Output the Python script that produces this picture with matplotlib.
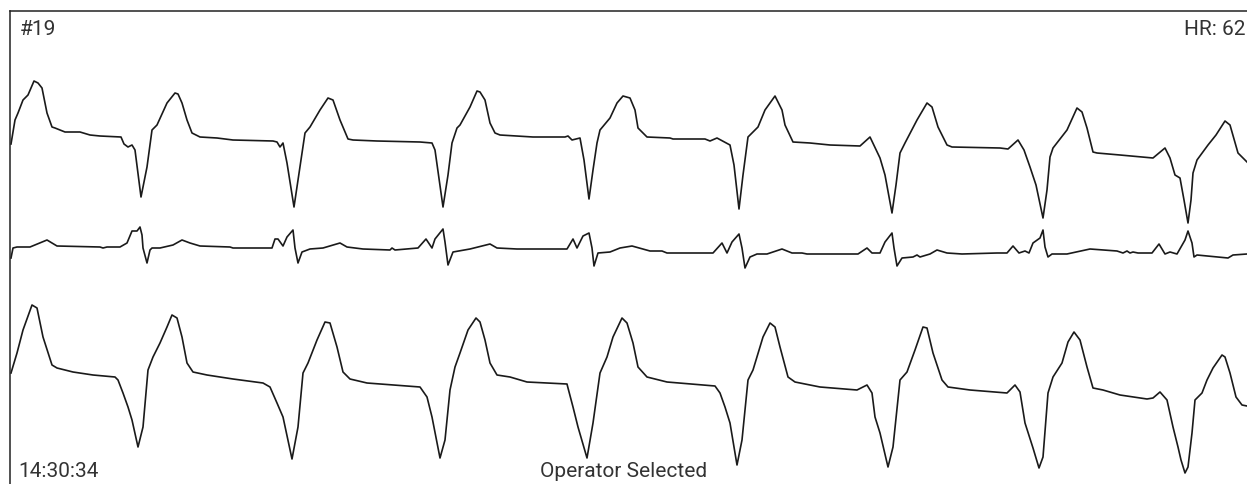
import numpy as np
import matplotlib.pyplot as plt

# traces (x = time in screen units, y = screen units, downwards)
top_trace = [(11,144),(15,120),(18,113),(23,100),(28,95),(34,81),(38,83),(42,88),(47,113),(52,127),(55,128),(65,132),(80,132),(90,135),(100,136),(121,137),(124,144),(128,147),(132,145),(135,150),(141,197),(147,167),(152,130),(157,125),(167,103),(175,93),(178,94),(182,103),(187,120),(192,133),(200,137),(217,138),(233,140),(273,141),(277,142),(280,147),(283,143),(287,163),(294,207),(300,167),(305,133),(310,127),(320,110),(328,98),(333,100),(340,120),(348,139),(353,140),(377,141),(420,142),(432,143),(435,150),(443,207),(448,175),(452,143),(457,128),(460,125),(470,107),(477,91),(480,92),(485,100),(490,123),(495,133),(500,135),(533,137),(565,137),(568,136),(572,140),(580,138),(584,160),(589,199),(593,170),(597,143),(600,130),(610,118),(617,103),(623,96),(630,98),(635,110),(638,128),(647,137),(670,138),(673,139),(705,139),(710,141),(717,138),(730,145),(734,165),(739,209),(743,175),(748,137),(758,127),(765,110),(775,96),(782,110),(785,125),(793,142),(810,143),(820,144),(830,145),(860,146),(870,137),(880,158),(885,175),(892,213),(896,185),(900,153),(905,143),(917,120),(927,103),(932,107),(938,127),(947,145),(952,147),(1000,148),(1008,149),(1018,140),(1024,150),(1030,167),(1036,185),(1043,218),(1047,190),(1050,157),(1053,148),(1067,130),(1077,108),(1082,112),(1087,128),(1093,152),(1097,153),(1120,155),(1153,158),(1165,148),(1170,158),(1175,175),(1180,178),(1184,200),(1188,223),(1191,200),(1193,173),(1197,160),(1208,145),(1216,135),(1225,121),(1230,125),(1238,153),(1247,162)]

mid_trace = [(11,258),(13,248),(17,247),(30,247),(47,240),(57,246),(100,247),(103,248),(107,247),(120,247),(127,243),(132,231),(137,231),(140,227),(142,235),(143,248),(147,263),(150,250),(152,248),(160,248),(173,245),(182,240),(190,243),(200,246),(230,247),(233,248),(272,248),(275,239),(278,239),(283,246),(287,237),(293,230),(295,248),(298,263),(302,252),(310,249),(323,248),(340,243),(347,247),(363,249),(390,250),(392,248),(395,250),(418,248),(426,239),(432,248),(435,239),(443,229),(445,242),(448,265),(453,252),(470,249),(490,244),(497,248),(517,249),(567,249),(573,239),(577,248),(583,236),(589,233),(592,248),(594,266),(598,253),(610,252),(620,248),(632,246),(650,251),(662,251),(667,253),(713,253),(722,243),(727,253),(732,242),(739,234),(742,248),(745,268),(750,257),(757,254),(767,254),(782,249),(792,253),(802,253),(807,254),(858,254),(867,248),(872,253),(880,253),(885,242),(892,233),(894,248),(897,266),(902,258),(913,257),(917,255),(920,257),(930,254),(937,250),(947,253),(962,254),(997,253),(1007,253),(1013,246),(1019,253),(1025,251),(1029,253),(1033,243),(1040,238),(1043,230),(1045,247),(1048,257),(1052,254),(1067,254),(1090,249),(1117,251),(1123,253),(1127,251),(1130,253),(1133,252),(1138,253),(1152,253),(1159,244),(1165,254),(1170,252),(1177,254),(1185,240),(1188,231),(1192,243),(1194,257),(1197,255),(1217,257),(1228,258),(1233,255),(1247,254)]

bot_trace = [(11,373),(17,353),(23,330),(32,305),(37,308),(43,337),(52,365),(57,368),(73,372),(93,375),(115,377),(118,380),(123,393),(128,407),(132,420),(138,447),(143,427),(148,370),(153,357),(160,343),(167,327),(172,315),(177,318),(182,337),(187,363),(193,372),(207,375),(233,379),(263,383),(270,387),(277,403),(283,417),(292,459),(298,427),(303,373),(308,363),(317,340),(325,322),(330,323),(337,347),(343,372),(350,379),(367,383),(420,387),(427,397),(432,417),(440,458),(445,440),(450,390),(455,367),(460,353),(468,330),(476,318),(480,322),(485,340),(490,363),(497,375),(510,377),(527,382),(567,384),(568,388),(573,407),(578,427),(587,458),(593,423),(600,373),(607,357),(613,337),(622,318),(627,323),(633,343),(638,367),(647,377),(667,382),(715,386),(720,393),(725,407),(730,423),(737,465),(742,440),(748,380),(753,370),(763,337),(770,323),(775,327),(780,347),(788,377),(795,382),(820,387),(857,390),(867,385),(872,393),(875,417),(880,433),(888,467),(893,447),(900,380),(907,372),(915,350),(923,327),(927,328),(933,353),(942,380),(948,387),(970,390),(1007,393),(1015,385),(1020,392),(1025,423),(1033,448),(1039,468),(1043,457),(1048,393),(1053,377),(1062,363),(1068,342),(1074,332),(1080,340),(1087,367),(1093,388),(1103,390),(1120,395),(1147,399),(1153,398),(1160,392),(1167,400),(1173,427),(1178,447),(1181,460),(1185,473),(1188,467),(1192,433),(1195,400),(1202,393),(1207,380),(1213,368),(1222,355),(1225,357),(1230,373),(1236,397),(1242,405),(1247,406)]

strip_id = "#19"
heart_rate = "HR: 62"
timestamp = "14:30:34"
status = "Operator Selected"

plt.rcParams['font.family'] = ['Roboto', 'DejaVu Sans']

fig = plt.figure(figsize=(12.47, 4.84), dpi=100)
ax = fig.add_axes([10/1247, 0, 1 - 10/1247, 1 - 11/484])
ax.set_xlim(10, 1247)
ax.set_ylim(484, 11)

for trace in (top_trace, mid_trace, bot_trace):
    t = np.array(trace)
    ax.plot(t[:, 0], t[:, 1], color='#1a1a1a', lw=1.2, solid_joinstyle='round')

ax.set_xticks([])
ax.set_yticks([])
for s in ('right', 'bottom'):
    ax.spines[s].set_visible(False)
for s in ('left', 'top'):
    ax.spines[s].set_color('#222222')
    ax.spines[s].set_linewidth(1.1)

txt = dict(color='#333333', fontsize=15)
ax.text(20, 35, strip_id, ha='left', va='baseline', **txt)
ax.text(1246, 35, heart_rate, ha='right', va='baseline', **txt)
ax.text(18, 477, timestamp, ha='left', va='baseline', **txt)
ax.text(624, 477, status, ha='center', va='baseline', **txt)

fig.savefig('out.png', dpi=100)
